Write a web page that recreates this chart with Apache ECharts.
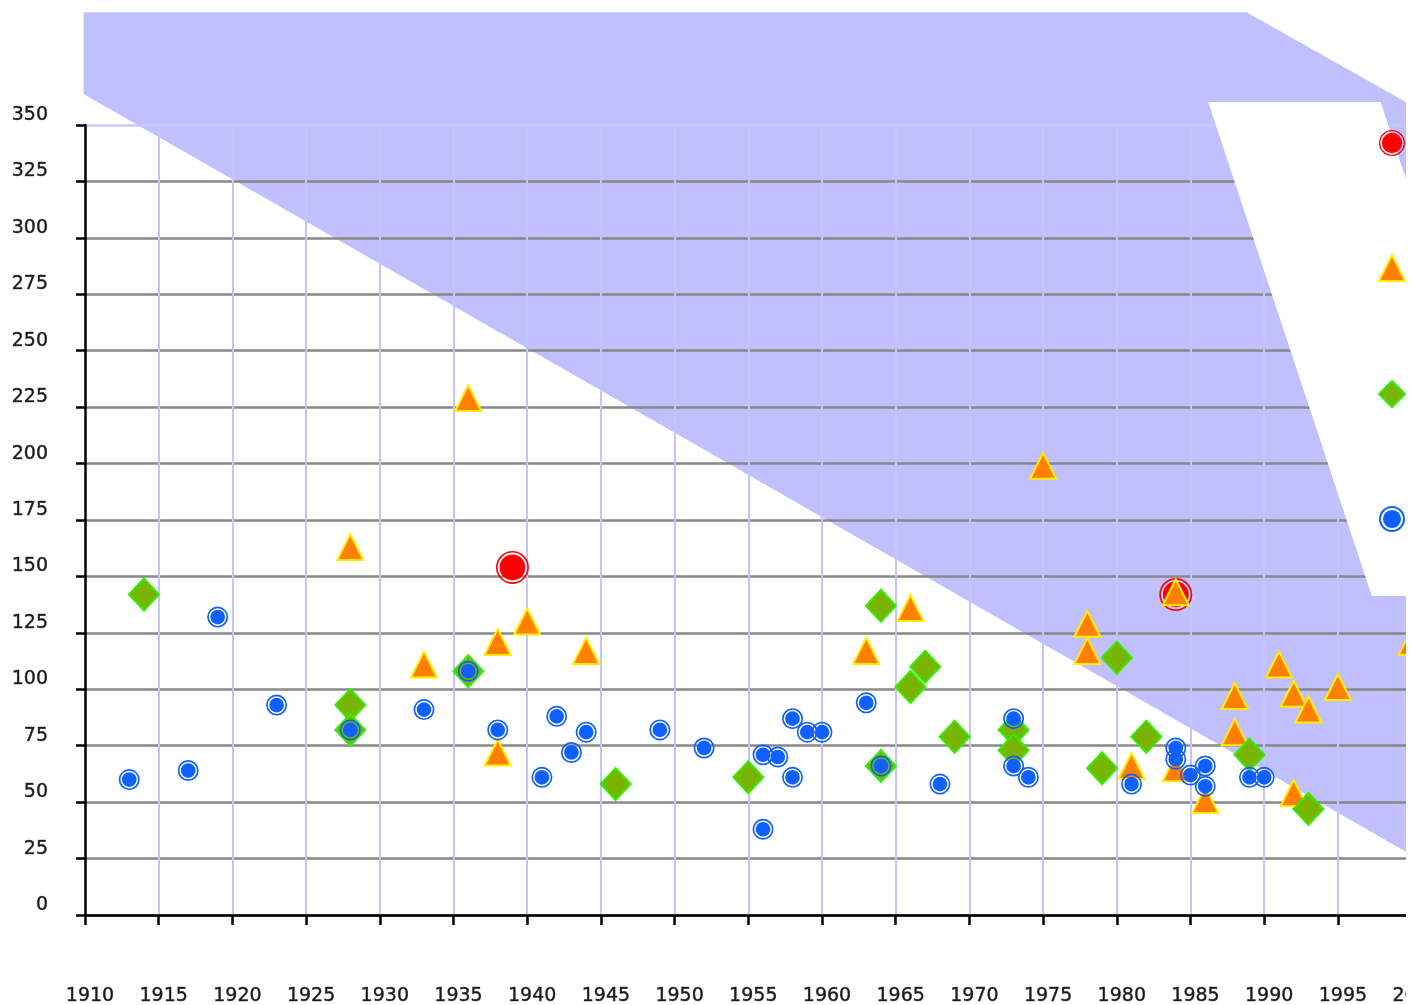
<!DOCTYPE html>
<html>
<head>
<meta charset="utf-8">
<script src="https://cdn.jsdelivr.net/npm/echarts@6/dist/echarts.min.js"></script>
<style>
  html, body { margin: 0; padding: 0; background: #fff; overflow: hidden; }
  #clip { position: absolute; left: 0; top: 0; width: 1406px; height: 1005px; overflow: hidden; }
  #main { width: 1500px; height: 1005px; }
</style>
</head>
<body>
<div id="clip"><div id="main"></div></div>
<script>
// ---- axis settings ----
const xMin = 1910, xMax = 2000, xStep = 5;
const yMin = 0, yMax = 350, yStep = 25;

// ---- series values [year, value] ----
const redData = [[1939, 154], [1984, 142]];

const orangeData = [
  [1936, 229], [1928, 163], [1933, 111], [1938, 121], [1940, 130], [1944, 117],
  [1938, 72], [1963, 117], [1966, 136], [1975, 199], [1984, 143], [1978, 129],
  [1978, 117], [1981, 66], [1984, 65], [1986, 51], [1988, 97], [1988, 81],
  [1991, 111], [1992, 98], [1993, 91], [1995, 101], [1992, 54], [2000, 121]
];

const greenData = [
  [1914, 142], [1928, 93], [1928, 82], [1936, 108], [1946, 58], [1955, 61],
  [1964, 137], [1967, 110], [1966, 101], [1964, 66], [1969, 79], [1973, 82],
  [1973, 73], [1980, 114], [1979, 65], [1982, 79], [1989, 71], [1993, 47]
];

const blueData = [
  [1913, 60], [1917, 64], [1919, 132], [1923, 93], [1928, 82], [1933, 91],
  [1936, 108], [1938, 82], [1941, 61], [1942, 88], [1944, 81], [1943, 72],
  [1949, 82], [1952, 74], [1956, 38], [1956, 71], [1957, 70], [1958, 61],
  [1958, 87], [1959, 81], [1960, 81], [1963, 94], [1964, 66], [1968, 58],
  [1973, 87], [1973, 66], [1974, 61], [1981, 58], [1984, 74], [1984, 69],
  [1985, 62], [1986, 66], [1986, 57], [1989, 61], [1990, 61]
];

// ---- shaded band and legend panel outlines, in data units [year, value] ----
const bandOutline = [[1909.9, 400], [1988.8, 400], [2000, 358.8], [2000, 26.6], [1909.9, 363.7]];
const panelOutline = [[1986.2, 360.2], [1997.9, 360.2], [2008.9, 141.3], [1997.3, 141.3]];

const seriesNames = ['A', 'B', 'C', 'D'];

// ring + dot symbols
const RING_BLUE = 'path://M50,0A50,50 0 1,1 50,100A50,50 0 1,1 50,0Z M50,8A42,42 0 1,0 50,92A42,42 0 1,0 50,8Z M50,15A35,35 0 1,1 50,85A35,35 0 1,1 50,15Z';
const RING_RED = 'path://M50,0A50,50 0 1,1 50,100A50,50 0 1,1 50,0Z M50,5A45,45 0 1,0 50,95A45,45 0 1,0 50,5Z M50,11A39,39 0 1,1 50,89A39,39 0 1,1 50,11Z';

const FONT = 'DejaVu Sans';
const yLineColors = [];
for (let v = yMin; v <= yMax; v += yStep) yLineColors.push(v === yMax ? '#c8c8ff' : '#888888');

function polygonSeries(name, outline, fill, z) {
  return {
    type: 'custom', name: name, silent: true, z: z, clip: false,
    data: [[1950, 200]],
    renderItem: function (params, api) {
      return {
        type: 'polygon',
        shape: { points: outline.map(function (p) { return api.coord(p); }) },
        style: { fill: fill }
      };
    }
  };
}

const labelText = {
  color: '#1a1a1a', fontFamily: FONT, fontSize: 19,
  textBorderColor: '#555', textBorderWidth: 0.5
};

const chart = echarts.init(document.getElementById('main'), null, { renderer: 'canvas' });
chart.setOption({
  animation: false,
  backgroundColor: '#ffffff',
  grid: { left: 85, top: 125, right: 88.4, bottom: 90, containLabel: false, outerBoundsMode: 'none' },
  legend: {
    orient: 'vertical', left: 1373, top: 125,
    itemWidth: 26, itemHeight: 26, itemGap: 98,
    selectedMode: false, z: 6,
    formatter: function () { return ''; },
    data: [
      { name: seriesNames[0], icon: RING_RED },
      { name: seriesNames[1], icon: 'triangle' },
      { name: seriesNames[2], icon: 'diamond' },
      { name: seriesNames[3], icon: RING_BLUE }
    ]
  },
  xAxis: {
    type: 'value', min: xMin, max: xMax, interval: xStep, z: 1,
    axisLine: { show: true, onZero: false, lineStyle: { color: '#000', width: 2.5 } },
    axisTick: { show: true, inside: false, length: 10, lineStyle: { color: '#000', width: 2.5 } },
    axisLabel: Object.assign({
      show: true, margin: 70, lineHeight: 22,
      padding: [0, 0, 0, 10], showMinLabel: true, showMaxLabel: true, hideOverlap: false,
      formatter: function (v) { return String(v); }
    }, labelText),
    splitLine: { show: true, showMinLine: false, lineStyle: { color: '#c4c4ff', width: 2 } }
  },
  yAxis: {
    type: 'value', min: yMin, max: yMax, interval: yStep, z: 0,
    axisLine: { show: true, onZero: false, lineStyle: { color: '#000', width: 2.5 } },
    axisTick: { show: true, inside: false, length: 9, lineStyle: { color: '#000', width: 2.5 } },
    axisLabel: Object.assign({
      show: true, margin: 37,
      lineHeight: 20, verticalAlign: 'bottom', showMinLabel: true, showMaxLabel: true,
      formatter: function (v) { return String(v); }
    }, labelText),
    splitLine: { show: true, lineStyle: { color: yLineColors, width: 2.5 } }
  },
  series: [
    polygonSeries('band', bandOutline, '#c0c0ff', -1),
    polygonSeries('panel', panelOutline, '#ffffff', 1.5),
    {
      type: 'scatter', name: seriesNames[0], data: redData, z: 2,
      symbol: RING_RED, symbolSize: 33,
      itemStyle: { color: '#ff0000', opacity: 1 }, emphasis: { disabled: true }
    },
    {
      type: 'scatter', name: seriesNames[1], data: orangeData, z: 2,
      symbol: 'triangle', symbolSize: [26, 26],
      itemStyle: { color: '#ff8000', borderColor: '#ffee00', borderWidth: 2, opacity: 1 },
      emphasis: { disabled: true }
    },
    {
      type: 'scatter', name: seriesNames[2], data: greenData, z: 2,
      symbol: 'diamond', symbolSize: [30, 32],
      itemStyle: { color: '#78b400', borderColor: '#33ee00', borderWidth: 2, opacity: 1 },
      emphasis: { disabled: true }
    },
    {
      type: 'scatter', name: seriesNames[3], data: blueData, z: 2,
      symbol: RING_BLUE, symbolSize: 21,
      itemStyle: { color: '#1060ff', opacity: 1 }, emphasis: { disabled: true }
    }
  ]
});
</script>
</body>
</html>
